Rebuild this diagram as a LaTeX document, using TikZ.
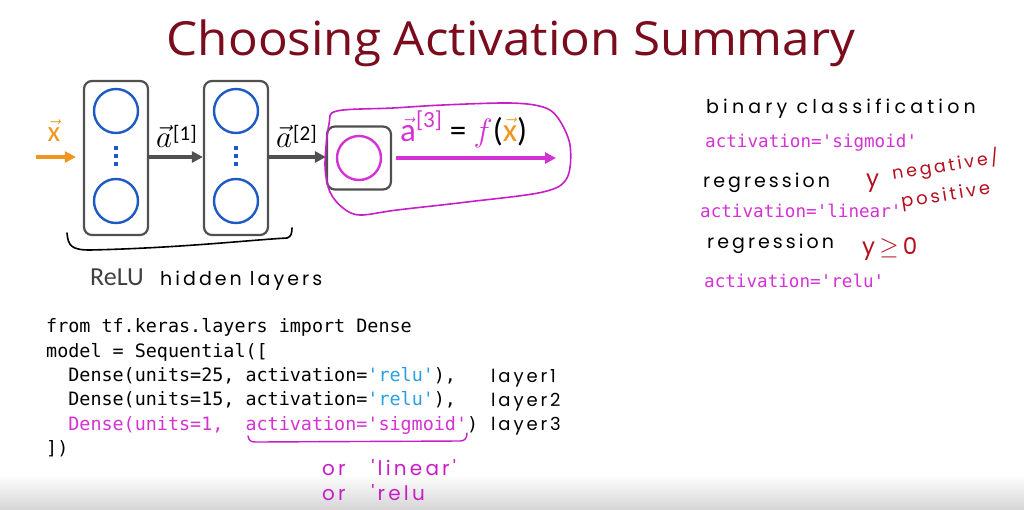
\documentclass[tikz,border=0pt]{standalone}
\usepackage{fontspec}
\usepackage{amsmath}
\setmainfont{Carlito}[Ligatures=NoCommon]
\newfontfamily\titlefont{Open Sans}[Ligatures=NoCommon]
\newfontfamily\codefont{DejaVu Sans Mono}
\newfontfamily\hw[LetterSpace=16]{Poppins}
\newfontfamily\hwwide[LetterSpace=22]{Poppins}
\usetikzlibrary{arrows.meta}
\definecolor{titlered}{RGB}{122,12,30}
\definecolor{mag}{RGB}{212,50,212}
\definecolor{hwmag}{RGB}{200,30,200}
\definecolor{nblue}{RGB}{30,90,195}
\definecolor{rblue}{RGB}{40,160,225}
\definecolor{xorange}{RGB}{240,150,30}
\definecolor{boxgray}{RGB}{80,80,80}
\definecolor{hwred}{RGB}{180,15,30}
\newcommand\actlabel[1]{\scalebox{1.25}{$\vec{a}$}\hspace{1pt}\raisebox{6.5pt}{\fontsize{21}{21}\selectfont[#1]}}
\tikzset{
  layerbox/.style={draw=boxgray,line width=2.2pt,rounded corners=8pt,minimum width=64pt,inner sep=0pt},
  neuron/.style={circle,draw=nblue,line width=2.4pt,minimum size=44pt,inner sep=0pt},
  garrow/.style={draw=boxgray,line width=3.5pt,-{Triangle[length=11pt,width=11pt]}},
  code/.style={anchor=base west,inner sep=0pt,font=\codefont\fontsize{18.4}{20}\selectfont},
  rcode/.style={anchor=base west,inner sep=0pt,text=mag,font=\codefont\fontsize{17.6}{20}\selectfont},
  hand/.style={anchor=base west,inner sep=0pt,font=\hw\fontsize{19}{22}\selectfont},
}
\begin{document}
\begin{tikzpicture}[x=1pt,y=-1pt]
\useasboundingbox (0,0) rectangle (1024,509);
\fill[white] (0,0) rectangle (1024,509);
\shade[top color=white,bottom color=black!16] (0,474) rectangle (1024,509);

% title
\node[text=titlered,font=\titlefont\fontsize{47}{52}\selectfont,inner sep=0pt,anchor=base,xscale=1.05] (title) at (511,55) {Choosing Activation Summary};

% network
\node[layerbox,minimum height=154pt] (b1) at (116,158) {};
\node[layerbox,minimum height=154pt] (b2) at (236,158) {};
\node[layerbox,minimum width=64pt,minimum height=63pt] (b3) at (359,158) {};
\node[neuron] (n11) at (116,111) {};
\node[neuron] (n12) at (116,201) {};
\node[neuron] (n21) at (236,111) {};
\node[neuron] (n22) at (236,201) {};
\node[neuron,draw=mag] (n3) at (359,158) {};
\foreach \xx in {116,236}{
  \foreach \yy in {148,156,164}{
    \fill[nblue] (\xx-1.6,\yy-1.6) rectangle (\xx+1.6,\yy+1.6);
  }
}
\coordinate (xin) at (36,157);
\coordinate (yout) at (556,158);
\draw[garrow,draw=xorange,shorten >=7pt] (xin) -- (b1.west|-xin);
\draw[garrow] (b1.east|-xin) -- (b2.west|-xin);
\draw[garrow] (b2.east|-xin) -- (b3.west|-xin);
\draw[garrow,draw=mag] (b3.east|-yout) ++(4,0) coordinate (ostart) -- (yout);

\node[text=xorange,font=\fontsize{29}{30}\selectfont,inner sep=0pt,anchor=base] (xlab) at (54,141) {$\vec{\text{x}}$};
\node[font=\fontsize{24.88}{26}\selectfont,inner sep=0pt,anchor=base west] (a1) at (156,147) {\actlabel{1}};
\node[font=\fontsize{24.88}{26}\selectfont,inner sep=0pt,anchor=base west] (a2) at (276,147) {\actlabel{2}};
\node[font=\fontsize{33}{34}\selectfont,inner sep=0pt,anchor=base west] (a3) at (400,141)
  {{\color{mag}$\vec{\text{a}}^{\text{[3]}}$} = {\color{mag}\scalebox{1.3}{$f$}}({\color{xorange}$\vec{\text{x}}$})};

% magenta blob
\draw[hwmag,line width=1.6pt] plot[smooth cycle,tension=0.55] coordinates {
  (337,111) (393,108) (443,105) (510,103) (543,107) (558,118) (570,145) (567,178)
  (543,192) (467,202) (397,210) (360,215) (343,208) (330,192) (325,165) (329,124)};

% bracket
\draw[black,line width=1.6pt,line cap=round] (67,233) .. controls (68,246) and (72,250) .. (90,250)
  .. controls (180,248) and (250,240) .. (287,238) .. controls (291,237) and (292,233) .. (292,228);

\node[anchor=base west,inner sep=0pt,text=black!75,font=\fontsize{26}{28}\selectfont] (relu) at (90,285) {ReLU};
\node[hand] (hidden) at (160,285) {hidden layers};

% code
\node[code] (c1) at (46,332) {from tf.keras.layers import Dense};
\node[code] (c2) at (46,357) {model = Sequential([};
\node[code] (c3) at (46,381) {\ \ Dense(units=25, activation={\color{rblue}'relu'}),};
\node[code] (c4) at (46,405) {\ \ Dense(units=15, activation={\color{rblue}'relu'}),};
\node[code] (c5) at (46,430) {\ \ {\color{mag}Dense(units=1,\ \ activation='sigmoid'})};
\node[code] (c6) at (46,454) {])};
\draw[hwmag,line width=1.4pt,line cap=round] (248,436) .. controls (249,441) and (251,442) .. (256,442)
  -- (460,441) .. controls (465,441) and (467,438) .. (467,433);

\node[hand,font=\hw\fontsize{18}{22}\selectfont] (l1) at (491,382) {layer1};
\node[hand,font=\hw\fontsize{18}{22}\selectfont] (l2) at (491,406) {layer2};
\node[hand,font=\hw\fontsize{18}{22}\selectfont] (l3) at (491,430) {layer3};
\node[hand,text=hwmag,font=\hw\fontsize{20}{24}\selectfont] (or1) at (322,475) {or\ \ \ 'linear'};
\node[hand,text=hwmag,font=\hw\fontsize{20}{24}\selectfont] (or2) at (322,500) {or\ \ \ 'relu};

% right side
\node[hand,font=\hwwide\fontsize{19}{22}\selectfont] (bin) at (706,113) {binary classification};
\node[rcode] (s1) at (705,147) {activation='sigmoid'};
\node[hand] (reg1) at (703,187) {regression};
\node[hand,text=hwred,font=\hw\fontsize{23}{26}\selectfont] (neg) at (866,186) {y};
\node[hand,text=hwred,rotate=9,font=\hw\fontsize{17.5}{22}\selectfont] (neg2) at (893,180) {negative/};
\node[hand,text=hwred,rotate=9,font=\hw\fontsize{18}{22}\selectfont] (pos) at (902,208) {positive};
\node[rcode] (s2) at (700,217) {activation='linear'};
\node[hand] (reg2) at (707,248) {regression};
\node[hand,text=hwred,font=\hw\fontsize{23}{26}\selectfont] (ge) at (862,254) {y$\,\geq\,$0};
\node[rcode] (s3) at (704,287) {activation='relu'};
\end{tikzpicture}
\end{document}
